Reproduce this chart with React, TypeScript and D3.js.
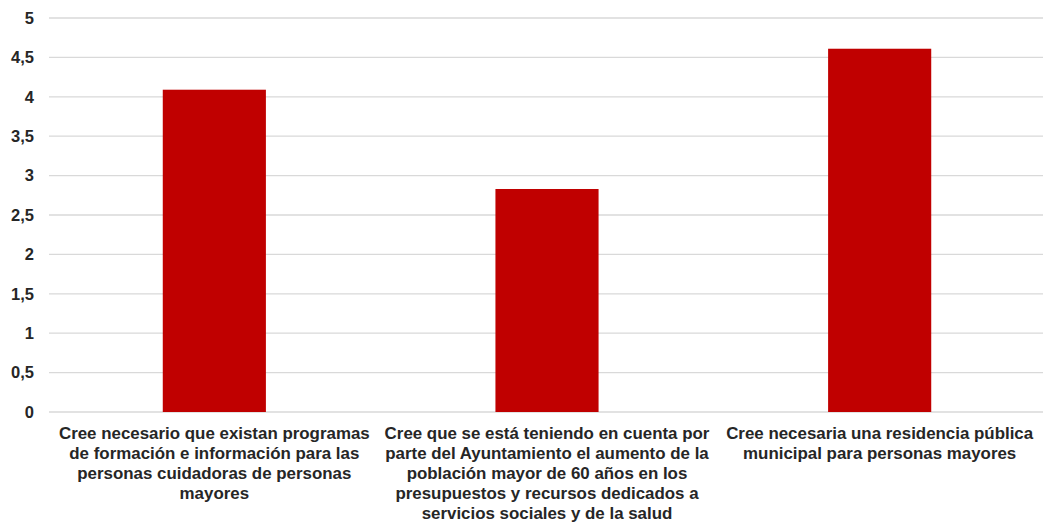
import React from "react";
import * as d3 from "d3";

const categories: string[][] = [
  ["Cree necesario que existan programas", "de formación e información para las", "personas cuidadoras de personas", "mayores"],
  ["Cree que se está teniendo en cuenta por", "parte del Ayuntamiento el aumento de la", "población mayor de 60 años en los", "presupuestos y recursos dedicados a", "servicios sociales y de la salud"],
  ["Cree necesaria una residencia pública", "municipal para personas mayores"],
];
const values: number[] = [4.09, 2.83, 4.61];
const yTicks: number[] = [0, 0.5, 1, 1.5, 2, 2.5, 3, 3.5, 4, 4.5, 5];

const W = 1046, H = 523;
const left = 48, right = 1046, gridRight = 1043, top = 18, bottom = 412;

export default function App() {
  const x = d3.scaleBand<number>().domain(d3.range(values.length)).range([left, right]).paddingInner(0.69).paddingOuter(0.345);
  const y = d3.scaleLinear().domain([0, 5]).range([bottom, top]);
  const fmt = (v: number) => String(v).replace(".", ",");
  const center = (i: number) => (x(i) as number) + x.bandwidth() / 2;
  return (
    <svg width={W} height={H} style={{ position: "absolute", left: 0, top: 0, background: "#fff" }} fontFamily="'Liberation Sans', Arial, sans-serif">
      {yTicks.map((t) => (
        <g key={t}>
          <line x1={49} x2={gridRight} y1={y(t)} y2={y(t)} stroke="#d9d9d9" strokeWidth={1.3} />
          <text x={34} y={y(t)} dy="0.35em" textAnchor="end" fontSize={16.5} fontWeight="bold" fill="#262626">{fmt(t)}</text>
        </g>
      ))}
      {values.map((v, i) => (
        <rect key={i} x={x(i)} y={y(v)} width={x.bandwidth()} height={y(0) - y(v)} fill="#c00000" />
      ))}
      {categories.map((lines, i) => (
        <text key={i} textAnchor="middle" fontSize={16.9} fontWeight="bold" fill="#262626">
          {lines.map((l, j) => (
            <tspan key={j} x={center(i)} y={439 + j * 20}>{l}</tspan>
          ))}
        </text>
      ))}
    </svg>
  );
}
